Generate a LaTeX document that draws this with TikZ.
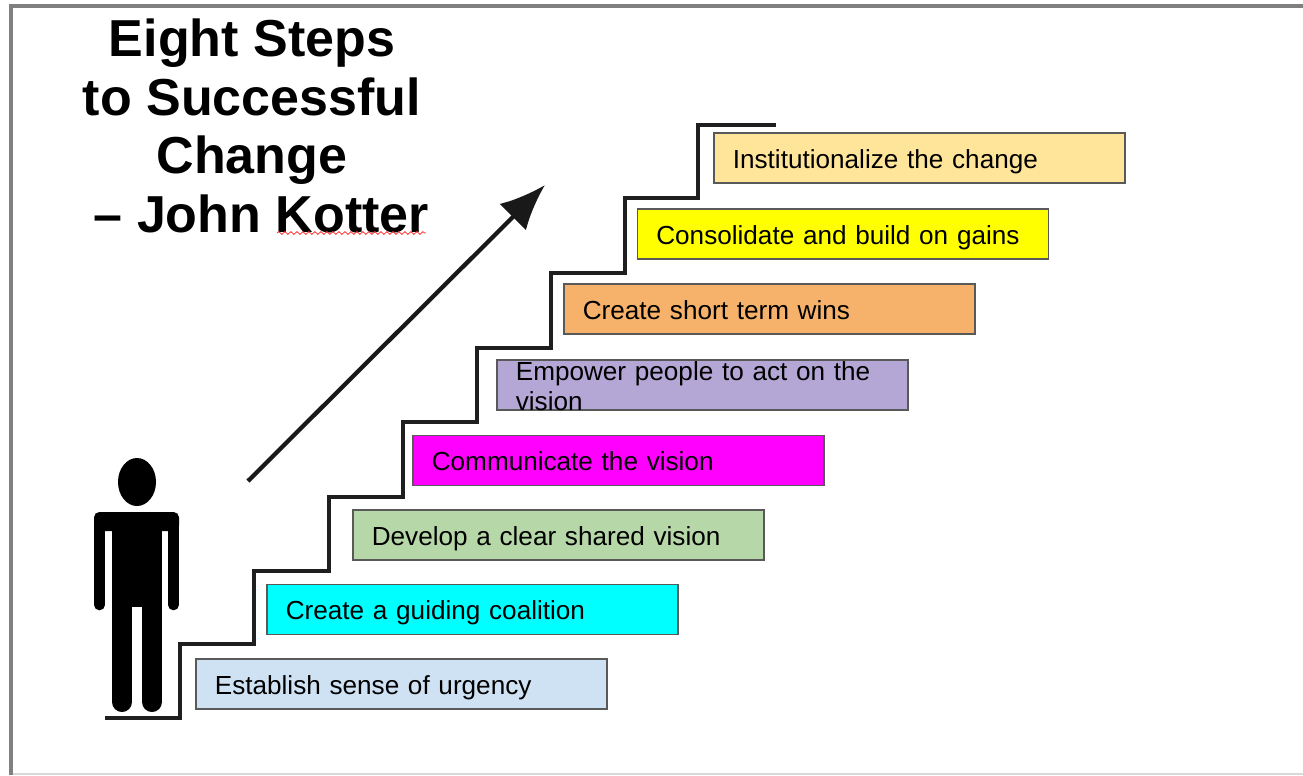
\documentclass[tikz,border=0pt]{standalone}
\usepackage{fontspec}
\setmainfont{Liberation Sans}
\usepackage{xcolor}
\usetikzlibrary{arrows.meta}
\usetikzlibrary{decorations.pathmorphing}
\definecolor{urgencyblue}{HTML}{CFE2F3}
\definecolor{coalitioncyan}{RGB}{0,255,255}
\definecolor{visiongreen}{HTML}{B6D7A8}
\definecolor{communicatepink}{RGB}{255,0,255}
\definecolor{empowerpurple}{HTML}{B4A7D6}
\definecolor{winsorange}{HTML}{F6B26B}
\definecolor{gainsyellow}{RGB}{255,255,0}
\definecolor{changeyellow}{HTML}{FFE599}

\begin{document}
\begin{tikzpicture}[
    x=0.75pt, y=-0.75pt,
    stepbox/.style={rectangle, draw=black!65, line width=0.9pt, fill=#1,
               minimum width=308.25pt, minimum height=37.5pt,
               inner xsep=14pt, inner ysep=0pt, text width=280pt, align=left,
               text height=26.25pt, text depth=11.25pt,
               font=\fontsize{19.6}{23.2}\selectfont},
    stairs/.style={draw=black!88, line width=3.5pt, line join=miter},
    arrow/.style={-{Latex[length=34pt,width=28pt]}, line width=3.2pt, draw=black!90},
    frameline/.style={draw=black!50, line width=3.5pt},
    limb/.style={draw=black, line cap=round}
]
\useasboundingbox (0,0) rectangle (1303,775);

% Frame
\draw[frameline] (1303,6) -- (11,6) -- (11,775);
\draw[black!15, line width=1pt] (13,774) -- (1303,774);

% Title
\node[align=center, font=\fontsize{39}{43.9}\bfseries\selectfont] (title) at (252,126)
  {Eight Steps\\to Successful\\Change\\\hspace*{14pt}-- John Kotter};
\draw[red!80, line width=0.6pt, decorate, decoration={snake, segment length=4.5pt, amplitude=1pt}]
  (277,233) -- (426,233);

% Stairs
\draw[stairs] (105,718) -- (180,718) -- (180,644) -- (254,644) -- (254,571) -- (329,571)
  -- (329,497) -- (403,497) -- (403,422) -- (477,422) -- (477,348) -- (551,348)
  -- (551,273) -- (625,273) -- (625,198) -- (698,198) -- (698,125) -- (776,125);

% Person
\fill[black] (137,482) ellipse [x radius=19, y radius=24];
\fill[black, rounded corners=4pt] (94,531) -- (94,512) -- (179,512) -- (179,531) -- cycle;
\fill[black] (112,520) rectangle (162,607);
\draw[limb, line width=8pt] (99.5,520) -- (99.5,605);
\draw[limb, line width=8pt] (173.5,520) -- (173.5,605);
\draw[limb, line width=15pt] (122,600) -- (122,702);
\draw[limb, line width=15pt] (152,600) -- (152,702);

% Arrow
\coordinate (arrowstart) at (248,481);
\coordinate (arrowend) at (545,185);
\draw[arrow] (arrowstart) -- (arrowend);

% Steps
\node[stepbox=urgencyblue] (urgency) at (401.5,684) {Establish sense of urgency};
\node[stepbox=coalitioncyan] (coalition) at (472.5,609.5) {Create a guiding coalition};
\node[stepbox=visiongreen] (vision) at (558.5,535) {Develop a clear shared vision};
\node[stepbox=communicatepink] (communicate) at (618.5,460.5) {Communicate the vision};
\node[stepbox=empowerpurple, text height=15pt, text depth=22.5pt] (empower) at (702.5,385)
  {Empower people to act on the vision};
\node[stepbox=winsorange] (wins) at (769.5,309) {Create short term wins};
\node[stepbox=gainsyellow] (consolidate) at (843,234) {Consolidate and build on gains};
\node[stepbox=changeyellow] (institutionalize) at (919.5,158) {Institutionalize the change};

\end{tikzpicture}
\end{document}
